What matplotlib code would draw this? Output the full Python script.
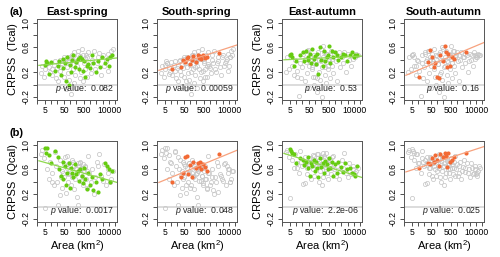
import matplotlib.pyplot as plt

plt.rcParams['font.family'] = ['Liberation Sans', 'DejaVu Sans']
plt.rcParams['mathtext.fontset'] = 'custom'
plt.rcParams['mathtext.rm'] = 'Liberation Sans'
plt.rcParams['mathtext.it'] = 'Liberation Sans:italic'

# catchment areas (km2) by region
area_east = [5.2, 5.8, 6.3, 7.9, 11, 17, 23, 26, 34, 41, 44, 55, 58, 72, 83, 95, 104, 128, 146, 170, 205,
             240, 285, 330, 390, 430, 510, 590, 720, 860, 980, 1250, 1450, 2100, 2600, 3300, 4200, 6100,
             7300, 9800, 11500, 14500]
area_south = [12, 34, 45, 55, 70, 81, 98, 120, 145, 190, 240, 280, 330, 380, 470, 560, 690, 2900]
area_other = [3.1, 3.6, 4.4, 4.9, 6.8, 8.5, 9.6, 12, 14, 16, 19, 21, 25, 29, 31, 37, 39, 47, 51, 63, 68,
              76, 88, 92, 115, 122, 135, 158, 165, 182, 196, 215, 228, 262, 310, 345, 370, 415, 450, 495,
              560, 640, 690, 780, 920, 1100, 1350, 1600, 1800, 2300, 2800, 3600, 4800, 5600, 6800, 8200,
              9000, 10500, 13000, 16000]

# CRPSS (Tcal), spring
tsp_east = [0.32, 0.38, 0.35, 0.17, 0.37, 0.22, 0.30, 0.38, 0.15, 0.42, 0.27, 0.35, 0.05, 0.44, 0.00,
            0.31, 0.20, 0.40, 0.47, 0.28, 0.36, 0.42, 0.25, 0.44, 0.41, 0.22, 0.38, 0.12, 0.30, 0.33,
            0.27, 0.48, 0.35, 0.20, 0.38, 0.28, 0.45, 0.35, 0.42, 0.30, 0.44, 0.48]
tsp_south = [0.25, 0.29, 0.40, 0.37, 0.43, 0.45, 0.34, 0.40, 0.46, 0.37, 0.48, 0.43, 0.46, 0.41, 0.47,
             0.43, 0.44, 0.51]
tsp_other = [0.18, 0.30, 0.12, 0.25, 0.35, 0.28, 0.20, 0.15, 0.32, 0.38, 0.10, 0.26, 0.05, 0.40, 0.22,
             -0.02, 0.33, 0.12, 0.45, -0.08, 0.28, 0.18, 0.36, 0.08, -0.15, 0.48, 0.25, 0.02, 0.52, 0.15,
             0.38, -0.05, 0.30, 0.55, 0.10, 0.42, 0.20, 0.58, 0.05, 0.35, 0.25, 0.47, 0.12, 0.52, 0.30,
             0.18, 0.40, 0.55, 0.25, 0.35, 0.45, 0.15, 0.48, 0.30, 0.38, 0.22, 0.50, 0.45, 0.55, 0.58]

# CRPSS (Tcal), autumn
tau_east = [0.48, 0.50, 0.45, 0.30, 0.38, 0.47, 0.52, 0.38, 0.55, 0.45, 0.40, 0.50, 0.35, 0.58, 0.42,
            0.46, 0.33, 0.50, 0.17, 0.60, 0.40, 0.30, 0.55, 0.38, 0.44, 0.48, 0.62, 0.35, 0.55, 0.45,
            0.52, 0.48, 0.40, 0.44, 0.50, 0.47, 0.38, 0.48, 0.52, 0.45, 0.47, 0.48]
tau_south = [0.12, 0.36, 0.56, 0.45, 0.28, 0.35, 0.12, 0.10, 0.48, 0.38, 0.63, 0.52, 0.28, 0.50, 0.30,
             0.45, 0.42, 0.53]
tau_other = [0.20, 0.45, 0.25, 0.48, 0.30, 0.15, 0.40, 0.22, -0.18, 0.35, 0.10, 0.28, 0.50, 0.05, 0.42,
             0.18, 0.55, 0.30, -0.05, 0.38, 0.25, 0.12, 0.47, 0.00, 0.33, -0.12, 0.52, 0.20, 0.40, 0.08,
             0.58, 0.28, -0.20, 0.45, 0.15, 0.36, 0.02, 0.50, 0.25, 0.42, 0.10, 0.55, 0.30, 0.18, 0.48,
             0.38, 0.05, 0.52, 0.28, 0.45, 0.35, 0.20, 0.50, 0.40, 0.30, 0.48, 0.42, 0.45, 0.50, 0.47]

# CRPSS (Qcal), spring
qsp_east = [0.95, 0.86, 0.94, 0.84, 0.70, 0.90, 0.80, 0.60, 0.50, 0.72, 0.45, 0.65, 0.35, 0.55, 0.70,
            0.30, 0.62, 0.55, 0.48, 0.68, 0.52, 0.58, 0.42, 0.60, 0.50, 0.38, 0.62, 0.45, 0.28, 0.55,
            0.35, 0.48, 0.26, 0.40, 0.24, 0.52, 0.45, 0.70, 0.65, 0.60, 0.40, 0.58]
qsp_south = [0.39, 0.47, 0.55, 0.80, 0.82, 0.52, 0.67, 0.48, 0.72, 0.62, 0.70, 0.66, 0.72, 0.60, 0.68,
             0.64, 0.58, 0.85]
qsp_other = [0.85, 0.92, 0.78, -0.03, 0.60, 0.45, 0.72, 0.55, 0.35, 0.88, 0.65, 0.40, 0.02, 0.75, 0.18,
             0.58, 0.30, 0.68, 0.48, 0.22, 0.62, 0.40, 0.70, 0.55, 0.35, 0.75, 0.50, 0.28, 0.65, 0.45,
             0.60, 0.15, 0.55, 0.02, 0.70, 0.42, 0.62, 0.50, 0.35, 0.58, 0.65, 0.45, 0.30, 0.82, 0.55,
             0.40, 0.60, 0.20, 0.48, 0.72, 0.65, 0.50, 0.42, 0.68, 0.35, 0.55, 0.60, 0.40, 0.45, 0.58]

# CRPSS (Qcal), autumn
qau_east = [0.93, 0.90, 0.86, 0.85, 0.70, 0.78, 0.75, 0.67, 0.72, 0.62, 0.80, 0.50, 0.70, 0.65, 0.75,
            0.58, 0.72, 0.62, 0.48, 0.78, 0.64, 0.70, 0.55, 0.74, 0.68, 0.60, 0.79, 0.62, 0.72, 0.50,
            0.68, 0.55, 0.72, 0.64, 0.56, 0.70, 0.60, 0.62, 0.55, 0.52, 0.50, 0.66]
qau_south = [0.62, 0.70, 0.68, 0.78, 0.72, 0.83, 0.75, 0.66, 0.85, 0.80, 0.86, 0.82, 0.64, 0.87, 0.72,
             0.76, 0.80, 0.87]
qau_other = [0.88, 0.92, 0.80, 0.14, 0.75, 0.62, 0.85, 0.70, 0.55, 0.90, 0.72, 0.65, 0.36, 0.80, 0.38,
             0.62, 0.52, 0.78, 0.68, 0.45, 0.72, 0.60, 0.82, 0.50, 0.66, 0.85, 0.70, 0.40, 0.74, 0.58,
             0.80, 0.35, 0.65, 0.48, 0.78, 0.60, 0.70, 0.55, 0.45, 0.72, 0.68, 0.52, 0.62, 0.82, 0.60,
             0.50, 0.66, 0.44, 0.58, 0.75, 0.62, 0.55, 0.48, 0.70, 0.52, 0.60, 0.65, 0.55, 0.58, 0.62]

# regression line values at the left / right end of the x range
fit_ends = [[0.31, 0.43], [0.23, 0.64], [0.40, 0.46], [0.15, 0.68],
            [0.74, 0.39], [0.39, 0.91], [0.86, 0.47], [0.56, 0.97]]
p_values = ['0.082', '0.00059', '0.53', '0.16', '0.0017', '0.048', '2.2e-06', '0.025']
titles = ['East-spring', 'South-spring', 'East-autumn', 'South-autumn']
ylabels = ['CRPSS  (Tcal)', 'CRPSS  (Qcal)']

xticks = [2, 5, 10, 20, 50, 100, 200, 500, 1000, 2000, 5000, 10000, 20000]
xlabeled = [5, 50, 500, 10000]
yticks = [-0.2, 0.0, 0.2, 0.4, 0.6, 0.8, 1.0]
ylabeled = [-0.2, 0.2, 0.6, 1.0]
xlim = (2.5, 25000)
ylim = (-0.25, 1.06)

green, green_line = '#66CC11', '#8ED84E'
orange, orange_line = '#F26A35', '#F7A27E'

data = [(tsp_east, tsp_south, tsp_other), (tsp_east, tsp_south, tsp_other),
        (tau_east, tau_south, tau_other), (tau_east, tau_south, tau_other),
        (qsp_east, qsp_south, qsp_other), (qsp_east, qsp_south, qsp_other),
        (qau_east, qau_south, qau_other), (qau_east, qau_south, qau_other)]

fig = plt.figure(figsize=(5.0, 2.57), dpi=100)
lefts = [37, 157, 282, 404]
tops = [19, 141]

for i in range(8):
    row, col = divmod(i, 4)
    ax = fig.add_axes([lefts[col] / 500, 1 - (tops[row] + 81) / 257, 80 / 500, 81 / 257])
    ax.set_xscale('log')
    ax.set_xlim(*xlim)
    ax.set_ylim(*ylim)
    y_east, y_south, y_other = data[i]
    east = col in (0, 2)
    if east:
        gx, gy = area_south + area_other, y_south + y_other
        cx, cy, c, cl = area_east, y_east, green, green_line
    else:
        gx, gy = area_east + area_other, y_east + y_other
        cx, cy, c, cl = area_south, y_south, orange, orange_line

    ax.axhline(0, color='#d2d2d2', lw=1.1, zorder=1)
    ax.plot(gx, gy, 'o', mfc='none', mec='#c6c6c6', ms=3.0, mew=0.55, zorder=2)
    ax.plot(cx, cy, 'o', color=c, ms=3.0, mew=0, zorder=3)
    ax.plot(xlim, fit_ends[i], color=cl, lw=0.9, zorder=4)

    ax.text(0.96, 0.06, r'$\it{p}$ value:  ' + p_values[i], transform=ax.transAxes,
            ha='right', va='bottom', fontsize=6.3, color='#222222')

    ax.set_xticks(xticks)
    ax.set_xticklabels([str(t) if t in xlabeled else '' for t in xticks])
    ax.xaxis.set_minor_locator(plt.NullLocator())
    ax.set_yticks(yticks)
    ax.set_yticklabels([('%.1f' % t) if t in ylabeled else '' for t in yticks],
                       rotation=90, va='center')
    ax.tick_params(length=3, width=0.6, labelsize=6.2, pad=1.5, color='#333333')
    for s in ax.spines.values():
        s.set_linewidth(0.7)
        s.set_color('#555555')

    if row == 0:
        ax.set_title(titles[col], fontsize=8, fontweight='bold', pad=3)
    if col in (0, 2):
        ax.set_ylabel(ylabels[row], fontsize=8, labelpad=3)
    if row == 1:
        ax.set_xlabel('Area (km$^2$)', fontsize=8, labelpad=1)

fig.text(10 / 500, 1 - 12 / 257, '(a)', fontsize=8, fontweight='bold', va='center')
fig.text(10 / 500, 1 - 133 / 257, '(b)', fontsize=8, fontweight='bold', va='center')

fig.savefig('out.png', dpi=100)
